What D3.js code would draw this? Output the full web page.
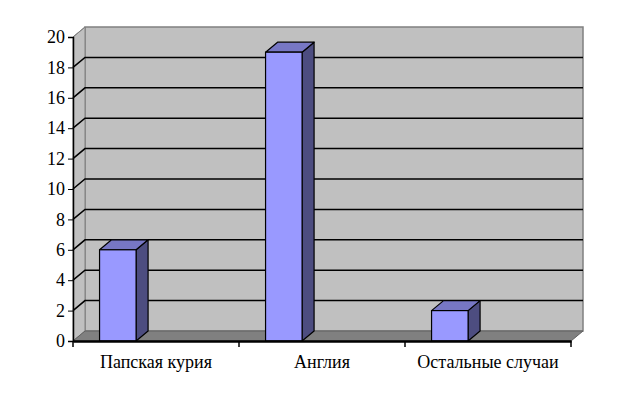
<!DOCTYPE html>
<html>
<head>
<meta charset="utf-8">
<script src="https://cdn.jsdelivr.net/npm/d3@7"></script>
<style>
  body { margin: 0; background: #fff; }
  text { font-family: "Liberation Serif", "Times New Roman", serif; }
</style>
</head>
<body>
<div id="chart"></div>
<script>
var categories = ["Папская курия", "Англия", "Остальные случаи"];
var values = [6, 19, 2];
var yTicks = [0, 2, 4, 6, 8, 10, 12, 14, 16, 18, 20];

var width = 626, height = 399;
var plotLeft = 73, plotRight = 571, plotBottom = 341, plotTop = 37;
var dx = 12, dy = -10; // depth of the 3d box

var svg = d3.select("#chart").append("svg")
    .attr("width", width)
    .attr("height", height);

var x = d3.scaleBand().domain(categories).range([plotLeft, plotRight]);
var y = d3.scaleLinear().domain([0, 20]).range([plotBottom, plotTop]);

// back wall
svg.append("rect")
    .attr("x", plotLeft + dx).attr("y", y(20) + dy)
    .attr("width", plotRight - plotLeft).attr("height", y(0) - y(20))
    .attr("fill", "#c0c0c0")
    .attr("stroke", "#808080").attr("stroke-width", 1.5);

// left wall
svg.append("path")
    .attr("d", "M" + plotLeft + "," + y(0) + "L" + plotLeft + "," + y(20) +
        "L" + (plotLeft + dx) + "," + (y(20) + dy) + "L" + (plotLeft + dx) + "," + (y(0) + dy) + "Z")
    .attr("fill", "#c0c0c0")
    .attr("stroke", "#808080").attr("stroke-width", 1);

// floor
svg.append("path")
    .attr("d", "M" + plotLeft + "," + y(0) + "L" + plotRight + "," + y(0) +
        "L" + (plotRight + dx) + "," + (y(0) + dy) + "L" + (plotLeft + dx) + "," + (y(0) + dy) + "Z")
    .attr("fill", "#808080")
    .attr("stroke", "#606060").attr("stroke-width", 1);

// gridlines on back wall + diagonals on left wall
var grid = svg.append("g");
grid.selectAll(".gl")
    .data(yTicks.filter(d => d > 0 && d < 20))
    .enter().append("path")
    .attr("class", "gl")
    .attr("d", d => "M" + plotLeft + "," + y(d) + "L" + (plotLeft + dx) + "," + (y(d) + dy) +
        "L" + (plotRight + dx) + "," + (y(d) + dy))
    .attr("fill", "none")
    .attr("stroke", "#000")
    .attr("stroke-width", 1.5);
grid.append("path")
    .attr("d", "M" + plotLeft + "," + y(20) + "L" + (plotLeft + dx) + "," + (y(20) + dy))
    .attr("stroke", "#808080").attr("stroke-width", 1);

// bars
var bw = x.bandwidth();
var barW = bw * 0.22;
function bx(d, i) { return x(categories[i]) + bw * 0.16; }

var bars = svg.selectAll(".bar")
    .data(values)
    .enter().append("g")
    .attr("class", "bar");

bars.append("path") // side
    .attr("d", (d, i) => {
        var x1 = bx(d, i) + barW;
        return "M" + x1 + "," + y(0) + "L" + x1 + "," + y(d) +
            "L" + (x1 + dx) + "," + (y(d) + dy) + "L" + (x1 + dx) + "," + (y(0) + dy) + "Z";
    })
    .attr("fill", "#4d4d80").attr("stroke", "#000").attr("stroke-width", 1.2)
    .attr("stroke-linejoin", "round");
bars.append("path") // top
    .attr("d", (d, i) => {
        var x0 = bx(d, i);
        return "M" + x0 + "," + y(d) + "L" + (x0 + barW) + "," + y(d) +
            "L" + (x0 + barW + dx) + "," + (y(d) + dy) + "L" + (x0 + dx) + "," + (y(d) + dy) + "Z";
    })
    .attr("fill", "#7777c4").attr("stroke", "#000").attr("stroke-width", 1.2)
    .attr("stroke-linejoin", "round");
bars.append("rect") // front
    .attr("x", bx)
    .attr("y", d => y(d))
    .attr("width", barW)
    .attr("height", d => y(0) - y(d))
    .attr("fill", "#9999ff").attr("stroke", "#000").attr("stroke-width", 1.2);

// y axis
var yAxis = svg.append("g")
    .attr("transform", "translate(" + plotLeft + ",0)")
    .call(d3.axisLeft(y).tickValues(yTicks).tickSize(5).tickPadding(3));
yAxis.select(".domain").attr("stroke", "#000").attr("stroke-width", 1.5);
yAxis.selectAll("text").attr("font-size", 18).attr("fill", "#000")
    .style("font-family", "'Liberation Serif', serif");

// x axis
var xAxis = svg.append("g")
    .attr("transform", "translate(0," + plotBottom + ")")
    .call(d3.axisBottom(x).tickSize(0).tickPadding(14));
xAxis.select(".domain").attr("stroke", "#000").attr("stroke-width", 2.5);
xAxis.selectAll("text").attr("font-size", 18).attr("fill", "#000")
    .style("font-family", "'Liberation Serif', serif");
svg.append("g").selectAll("line")
    .data(categories.concat(["end"]))
    .enter().append("line")
    .attr("x1", (d, i) => i < categories.length ? x(d) : plotRight)
    .attr("x2", (d, i) => i < categories.length ? x(d) : plotRight)
    .attr("y1", plotBottom).attr("y2", plotBottom + 6)
    .attr("stroke", "#000").attr("stroke-width", 1.5);
</script>
</body>
</html>
